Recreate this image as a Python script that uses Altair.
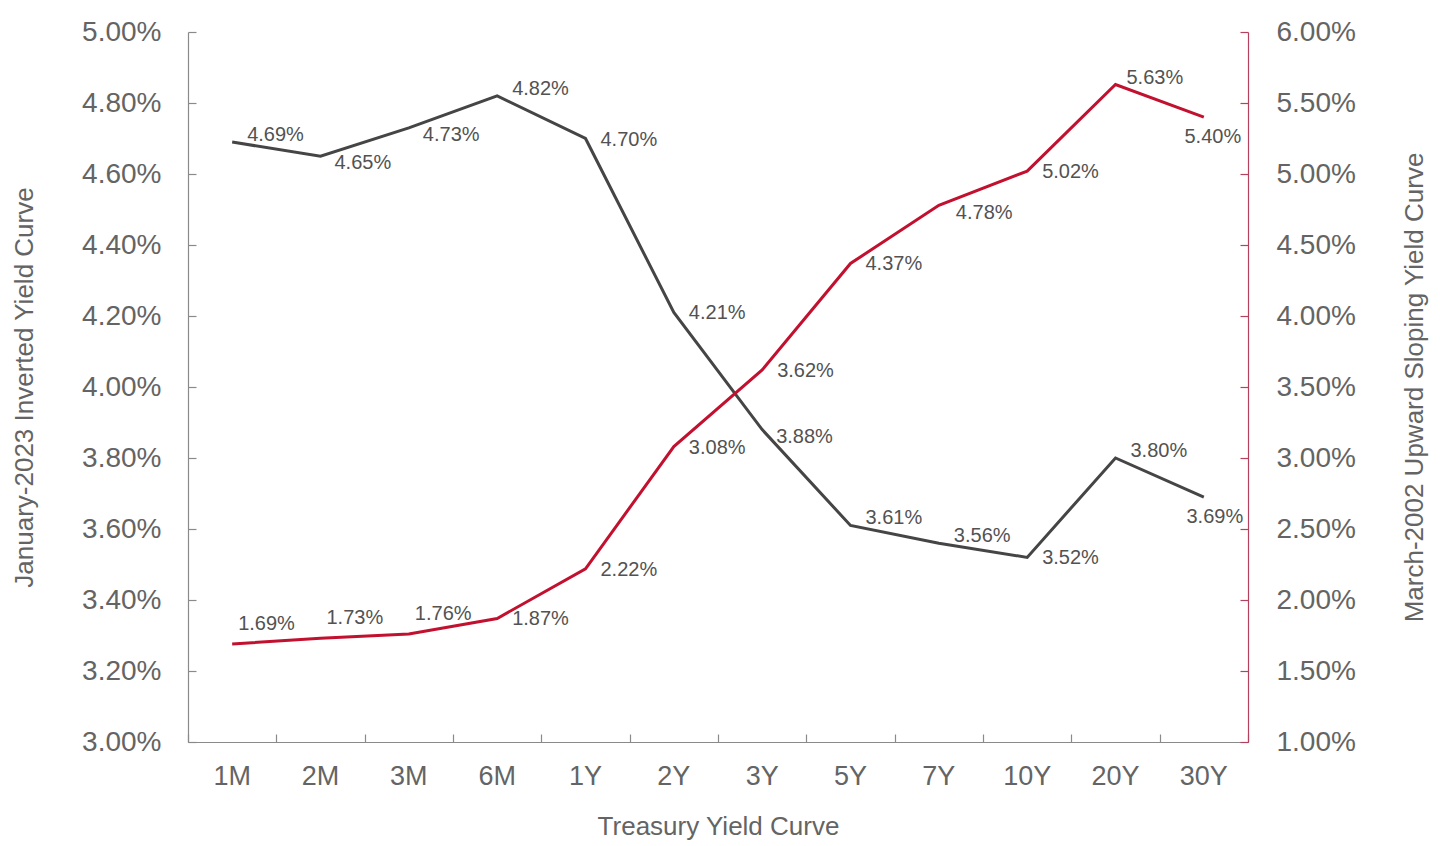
import altair as alt
import pandas as pd

maturities = ["1M", "2M", "3M", "6M", "1Y", "2Y", "3Y", "5Y", "7Y", "10Y", "20Y", "30Y"]
jan2023 = [4.69, 4.65, 4.73, 4.82, 4.70, 4.21, 3.88, 3.61, 3.56, 3.52, 3.80, 3.69]
mar2002 = [1.69, 1.73, 1.76, 1.87, 2.22, 3.08, 3.62, 4.37, 4.78, 5.02, 5.63, 5.40]
left_ticks = [3.00, 3.20, 3.40, 3.60, 3.80, 4.00, 4.20, 4.40, 4.60, 4.80, 5.00]
right_ticks = [1.00, 1.50, 2.00, 2.50, 3.00, 3.50, 4.00, 4.50, 5.00, 5.50, 6.00]

# label placement groups (which maturities get their label above / below the point)
jan_up = ["1M", "6M", "5Y", "7Y", "20Y"]
jan_down = ["2M", "3M", "3Y"]
jan_below = ["30Y"]
mar_above = ["1M", "2M", "3M"]
mar_up = ["20Y"]
mar_down = ["7Y"]
mar_below = ["30Y"]

df = pd.DataFrame({
    "maturity": maturities,
    "jan": [v / 100 for v in jan2023],
    "mar": [v / 100 for v in mar2002],
})

FONT = "Liberation Sans"
TXT = "#646464"
GRAY = "#8a8a8a"
BLACK = "#454545"
RED = "#c2102f"
RED_AX = "#b5415e"
W, H = 1060, 710

lt = [v / 100 for v in left_ticks]
rt = [v / 100 for v in right_ticks]

xscale = alt.Scale(type="band", paddingInner=0, paddingOuter=0)


def xenc(axis=None):
    return alt.X("maturity:N", sort=maturities, scale=xscale, bandPosition=0.5, axis=axis)


x_main_axis = alt.Axis(
    title="Treasury Yield Curve", labelAngle=0, ticks=False, tickSize=0, domain=True,
    domainColor=GRAY, domainWidth=1.2, labelFontSize=27, labelFont=FONT,
    labelColor=TXT, labelPadding=21, titleFont=FONT, titleFontSize=26, titleFontWeight="normal",
    titleColor=TXT, titlePadding=24, grid=False,
)
x_tick_axis = alt.Axis(
    orient="top", offset=-H, labels=False, domain=False, ticks=True, tickSize=8,
    tickColor=GRAY, tickWidth=1.2, tickBand="extent", title=None, grid=False,
)


def lscale():
    return alt.Scale(domain=[0.03, 0.05], zero=False, nice=False)


def rscale():
    return alt.Scale(domain=[0.01, 0.06], zero=False, nice=False)


left_axis = alt.Axis(
    orient="left", values=lt, format=".2%", ticks=False, tickSize=0, domain=True,
    domainColor=GRAY, domainWidth=1.2, labelFontSize=28, labelFont=FONT,
    labelColor=TXT, labelPadding=27, title="January-2023 Inverted Yield Curve",
    titleFont=FONT, titleFontSize=26, titleFontWeight="normal", titleColor=TXT,
    titlePadding=44, grid=False,
)
right_axis = alt.Axis(
    orient="right", values=rt, format=".2%", ticks=False, tickSize=0, domain=True,
    domainColor=RED_AX, domainWidth=1.2, labelFontSize=28, labelFont=FONT,
    labelColor=TXT, labelPadding=28, title="March-2002 Upward Sloping Yield Curve",
    titleFont=FONT, titleFontSize=26, titleFontWeight="normal", titleColor=TXT,
    titleAngle=270, titlePadding=72, grid=False,
)
left_tick_axis = alt.Axis(
    orient="right", offset=-W, values=lt, labels=False, domain=False, ticks=True, tickSize=8,
    tickColor=GRAY, tickWidth=1.2, title=None, grid=False,
)
right_tick_axis = alt.Axis(
    orient="left", offset=-W, values=rt, labels=False, domain=False, ticks=True, tickSize=8,
    tickColor=RED_AX, tickWidth=1.2, title=None, grid=False,
)

base = alt.Chart(df)
label_style = dict(font=FONT, fontSize=20, color="#525252")


def yj(axis=None):
    return alt.Y("jan:Q", scale=lscale(), axis=axis)


def ym(axis=None):
    return alt.Y("mar:Q", scale=rscale(), axis=axis)


def labels(field, yfun, group, align, dx, dy):
    return base.transform_filter(
        alt.FieldOneOfPredicate(field="maturity", oneOf=group)
    ).mark_text(align=align, baseline="middle", dx=dx, dy=dy, **label_style).encode(
        x=xenc(), y=yfun(), text=alt.Text(f"{field}:Q", format=".2%"))


jan_mid = [m for m in maturities if m not in jan_up + jan_down + jan_below]
mar_mid = [m for m in maturities if m not in mar_above + mar_up + mar_down + mar_below]

jan_line = base.mark_line(color=BLACK, strokeWidth=3).encode(x=xenc(x_main_axis), y=yj(left_axis))
mar_line = base.mark_line(color=RED, strokeWidth=3).encode(x=xenc(), y=ym(right_axis))

text_layers = [
    labels("jan", yj, jan_up, "left", 15, -7),
    labels("jan", yj, jan_down, "left", 14, 7),
    labels("jan", yj, jan_mid, "left", 15, 1),
    labels("jan", yj, jan_below, "center", 11, 20),
    labels("mar", ym, mar_above, "left", 6, -20),
    labels("mar", ym, mar_up, "left", 11, -7),
    labels("mar", ym, mar_down, "left", 17, 8),
    labels("mar", ym, mar_mid, "left", 15, 1),
    labels("mar", ym, mar_below, "center", 9, 20),
]

# inward tick marks via extra axes
ticks_left = base.mark_line(opacity=0).encode(x=xenc(x_tick_axis), y=yj(left_tick_axis))
ticks_right = base.mark_line(opacity=0).encode(x=xenc(), y=ym(right_tick_axis))

chart = alt.layer(
    jan_line, mar_line, *text_layers, ticks_left, ticks_right,
).resolve_scale(
    y="independent"
).resolve_axis(
    y="independent", x="independent"
).properties(
    width=W, height=H, padding={"left": 3, "top": 10, "right": 2, "bottom": 5},
    background="white",
).configure_view(stroke=None)

chart.save("out.html", embed_options={"renderer": "svg", "actions": False})
